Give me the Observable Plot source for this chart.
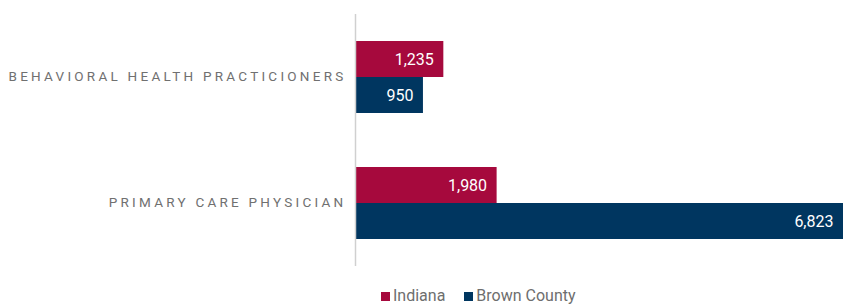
<!DOCTYPE html>
<html>
<head>
<meta charset="utf-8">
<script src="https://cdn.jsdelivr.net/npm/d3@7"></script>
<script src="https://cdn.jsdelivr.net/npm/@observablehq/plot@0.6"></script>
<style>
  html, body { margin: 0; padding: 0; background: #fff; font-family: Roboto, "Liberation Sans", sans-serif; }
  #chart svg { display: block; }
  g[aria-label="fy-axis tick label"] text { letter-spacing: 3.25px; }
  .legend { display: flex; gap: 19px; padding-left: 381px; margin-top: 4px; font-size: 16px; color: #6e6e6e; }
  .legend span { display: inline-flex; align-items: center; }
  .legend i { display: inline-block; width: 9px; height: 9px; margin-right: 3px; margin-top: 2px; }
</style>
</head>
<body>
<div id="chart"></div>
<div class="legend" id="legend"></div>
<script>
const categories = ["BEHAVIORAL HEALTH PRACTICIONERS", "PRIMARY CARE PHYSICIAN"];
const series = ["Indiana", "Brown County"];
const indianaValues = [1235, 1980];
const brownValues = [950, 6823];
const colors = ["#A6093D", "#003660"];

const data = [];
categories.forEach((c, i) => {
  data.push({category: c, series: "Indiana", value: indianaValues[i]});
  data.push({category: c, series: "Brown County", value: brownValues[i]});
});

const chart = Plot.plot({
  width: 843,
  height: 282,
  marginLeft: 355,
  marginRight: 0,
  marginTop: 13,
  marginBottom: 16,
  style: {fontFamily: "Roboto, 'Liberation Sans', sans-serif", background: "white"},
  x: {domain: [0, d3.max(brownValues.concat(indianaValues))], axis: null},
  y: {domain: series, axis: null, paddingInner: 0, paddingOuter: 0.733},
  fy: {domain: categories, padding: 0, axis: null},
  color: {domain: series, range: colors},
  marks: [
    Plot.axisFy({anchor: "left", tickSize: 0, tickPadding: 9, label: null, fontSize: 13.5, color: "#707070", dy: -1}),
    Plot.barX(data, {x: "value", y: "series", fy: "category", fill: "series"}),
    Plot.text(data, {x: "value", y: "series", fy: "category", text: d => d3.format(",")(d.value), textAnchor: "end", dx: -10, fill: "white", fontSize: 16, fontWeight: 400}),
    Plot.ruleX([0], {stroke: "#d0d0d0", strokeWidth: 1.5})
  ]
});
document.getElementById("chart").appendChild(chart);

const legend = document.getElementById("legend");
series.forEach((s, i) => {
  const sp = document.createElement("span");
  const sw = document.createElement("i");
  sw.style.background = colors[i];
  sp.appendChild(sw);
  sp.appendChild(document.createTextNode(s));
  legend.appendChild(sp);
});
</script>
</body>
</html>
